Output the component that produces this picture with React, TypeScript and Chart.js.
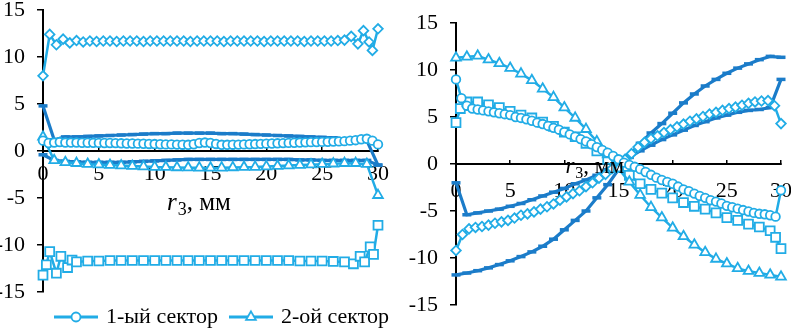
import React, { useEffect, useRef } from "react";
import { Chart, registerables } from "chart.js";

Chart.register(...registerables);

const LIGHT = "#21ace6";
const DARK = "#1b7cc9";
const FONT = "'Liberation Serif', 'Times New Roman', serif";

// ---------- x grids ----------
const X1 = [0, 1, 2, 3, 4, 5, 6, 7, 8, 9, 10, 11, 12, 13, 14, 15, 16, 17, 18, 19, 20, 21, 22, 23, 24, 25, 26, 27, 28, 29, 30];
const X05 = [0, 0.5, 1, 1.5, 2, 2.5, 3, 3.5, 4, 4.5, 5, 5.5, 6, 6.5, 7, 7.5, 8, 8.5, 9, 9.5, 10, 10.5, 11, 11.5, 12, 12.5, 13, 13.5, 14, 14.5, 15, 15.5, 16, 16.5, 17, 17.5, 18, 18.5, 19, 19.5, 20, 20.5, 21, 21.5, 22, 22.5, 23, 23.5, 24, 24.5, 25, 25.5, 26, 26.5, 27, 27.5, 28, 28.5, 29, 29.5, 30];
const X06 = [0, 0.6, 1.2, 1.8, 2.4, 3, 3.6, 4.2, 4.8, 5.4, 6, 6.6, 7.2, 7.8, 8.4, 9, 9.6, 10.2, 10.8, 11.4, 12, 12.6, 13.2, 13.8, 14.4, 15, 15.6, 16.2, 16.8, 17.4, 18, 18.6, 19.2, 19.8, 20.4, 21, 21.6, 22.2, 22.8, 23.4, 24, 24.6, 25.2, 25.8, 26.4, 27, 27.6, 28.2, 28.8, 29.4, 30];

const X_TICKS = [0, 5, 10, 15, 20, 25, 30];
const Y_TICKS = [-15, -10, -5, 0, 5, 10, 15];

const LEGEND_LABELS = ["1-ый сектор", "2-ой сектор"];
const SERIES_LABELS = ["1-ый сектор", "2-ой сектор", "3-ий сектор", "4-ый сектор", "5-ый сектор", "6-ой сектор"];

// ---------- left panel ----------
const leftCircleY = [
  1.1, 0.85, 0.9, 0.95, 0.9, 0.9, 0.9, 0.88, 0.88, 0.87,
  0.86, 0.85, 0.85, 0.84, 0.82, 0.8, 0.8, 0.78, 0.77, 0.75,
  0.74, 0.72, 0.7, 0.7, 0.68, 0.67, 0.66, 0.72, 0.85, 0.9,
  0.85, 0.75, 0.66, 0.66, 0.67, 0.68, 0.7, 0.72, 0.74, 0.76,
  0.78, 0.8, 0.82, 0.84, 0.86, 0.88, 0.9, 0.92, 0.94, 0.95,
  0.97, 0.98, 1.0, 1.02, 1.05, 1.1, 1.15, 1.25, 1.3, 1.1,
  0.7,
];
const leftTriangleY = [
  1.5, -1.0, -1.2, -1.3, -1.4, -1.45, -1.5, -1.55, -1.6, -1.65, -1.7,
  -1.72, -1.75, -1.77, -1.78, -1.8, -1.78, -1.75, -1.72, -1.7, -1.65,
  -1.6, -1.55, -1.5, -1.45, -1.4, -1.35, -1.3, -1.3, -1.4, -4.7,
];
const leftSquareX = [0, 0.3, 0.6, 1.2, 1.6, 2.2, 2.6, 3, 4, 5, 6, 7, 8, 9, 10, 11, 12, 13, 14, 15, 16, 17, 18, 19, 20, 21, 22, 23, 24, 25, 26, 27, 27.8, 28.4, 28.8, 29.3, 29.6, 30];
const leftSquareY = [
  -13.2, -12.1, -10.7, -13.0, -11.2, -12.4, -11.6, -11.8,
  -11.7, -11.7, -11.65, -11.65, -11.65, -11.65, -11.65, -11.65, -11.65, -11.65, -11.65, -11.65,
  -11.65, -11.65, -11.65, -11.65, -11.65, -11.65, -11.65, -11.7, -11.7, -11.7, -11.75, -11.8,
  -12.0, -11.2, -11.8, -10.2, -11.0, -7.9,
];
const leftDiamondX = [0, 0.6, 1.2, 1.8, 2.4, 3, 3.6, 4.2, 4.8, 5.4, 6, 6.6, 7.2, 7.8, 8.4, 9, 9.6, 10.2, 10.8, 11.4, 12, 12.6, 13.2, 13.8, 14.4, 15, 15.6, 16.2, 16.8, 17.4, 18, 18.6, 19.2, 19.8, 20.4, 21, 21.6, 22.2, 22.8, 23.4, 24, 24.6, 25.2, 25.8, 26.4, 27, 27.6, 28.2, 28.7, 29.2, 29.5, 30];
const leftDiamondY = [
  8.0, 12.4, 11.3, 11.9, 11.5, 11.75, 11.6, 11.7, 11.65, 11.7,
  11.7, 11.65, 11.7, 11.7, 11.7, 11.65, 11.7, 11.7, 11.7, 11.7,
  11.7, 11.7, 11.65, 11.7, 11.7, 11.7, 11.7, 11.65, 11.7, 11.7,
  11.7, 11.7, 11.7, 11.65, 11.7, 11.7, 11.7, 11.7, 11.7, 11.65,
  11.7, 11.7, 11.7, 11.7, 11.75, 11.8, 12.2,
  11.4, 12.8, 11.6, 10.7, 13.0,
];
const leftDarkUpperY = [
  4.8, 1.2, 1.5, 1.5, 1.55, 1.6, 1.65, 1.7, 1.75, 1.8, 1.85,
  1.85, 1.9, 1.9, 1.9, 1.9, 1.85, 1.85, 1.8, 1.75, 1.7,
  1.65, 1.6, 1.55, 1.5, 1.45, 1.4, 1.3, 1.2, 1.1, -1.5,
];
const leftDarkLowerY = [
  -0.4, -1.0, -1.1, -1.15, -1.2, -1.2, -1.2, -1.2, -1.15, -1.1, -1.05,
  -1.0, -0.95, -0.9, -0.9, -0.9, -0.9, -0.9, -0.9, -0.9, -0.9,
  -0.9, -0.9, -0.95, -0.95, -1.0, -1.0, -1.0, -1.0, -1.0, -1.5,
];

// ---------- right panel ----------
const rightCircleY = [
  9.0, 7.0, 6.2, 5.9, 5.8, 5.7, 5.6, 5.5, 5.4, 5.3,
  5.2, 5.0, 4.9, 4.75, 4.6, 4.4, 4.25, 4.05, 3.85, 3.65,
  3.4, 3.15, 2.9, 2.65, 2.4, 2.1, 1.8, 1.5, 1.2, 0.85,
  0.5, 0.15, -0.1, -0.3, -0.55, -0.85, -1.15, -1.45, -1.7, -1.9,
  -2.1, -2.4, -2.7, -2.9, -3.15, -3.4, -3.6, -3.85, -4.0, -4.2,
  -4.45, -4.6, -4.75, -4.9, -5.05, -5.2, -5.3, -5.35, -5.45, -5.6,
  -2.8,
];
const rightTriangleY = [
  11.3, 11.4, 11.5, 11.1, 10.7, 10.2, 9.6, 8.9, 8.0, 7.1, 6.0,
  4.9, 3.7, 2.4, 1.0, -0.5, -1.9, -3.3, -4.6, -5.7, -6.8,
  -7.7, -8.6, -9.4, -10.1, -10.6, -11.1, -11.4, -11.6, -11.8, -12.0,
];
const rightSquareX = [0, 0.4, 1, 2, 3, 4, 5, 6, 7, 8, 9, 10, 11, 12, 13, 14, 15, 16, 17, 18, 19, 20, 21, 22, 23, 24, 25, 26, 27, 28, 29, 29.5, 30];
const rightSquareY = [
  4.4, 5.9,
  6.6, 6.6, 6.3, 6.0, 5.6, 5.2, 4.9, 4.45, 4.0, 3.4,
  2.9, 2.2, 1.4, 0.5, -0.35, -1.2, -2.1, -2.7, -3.1, -3.6,
  -4.1, -4.5, -4.8, -5.2, -5.7, -6.0, -6.4, -6.7, -7.1,
  -7.8, -9.0,
];
const rightDiamondY = [
  -9.2, -7.5, -6.9, -6.75, -6.65, -6.5, -6.3, -6.15, -6.0, -5.75,
  -5.45, -5.3, -5.1, -4.8, -4.55, -4.25, -3.85, -3.5, -3.15, -2.85,
  -2.4, -2.0, -1.5, -1.1, -0.5, 0.0, 0.5, 1.1, 1.8, 2.3,
  2.7, 3.0, 3.35, 3.65, 3.95, 4.25, 4.55, 4.8, 5.05, 5.3,
  5.5, 5.7, 5.9, 6.05, 6.25, 6.45, 6.6, 6.7, 6.75, 6.2, 4.3,
];
const rightDarkUpperY = [
  -2.0, -5.4, -5.2, -5.0, -4.8, -4.5, -4.2, -3.8, -3.4, -3.0, -2.6,
  -2.1, -1.7, -1.2, -0.6, 0.0, 0.7, 1.4, 2.0, 2.6, 3.1,
  3.6, 4.1, 4.5, 4.9, 5.2, 5.5, 5.7, 5.8, 6.0, 9.0,
];
const rightDarkLowerY = [
  -11.8, -11.6, -11.35, -11.05, -10.7, -10.3, -9.85, -9.35, -8.75, -8.0, -7.0,
  -6.0, -5.0, -3.6, -2.2, -0.6, 0.9, 2.2, 3.3, 4.3, 5.4,
  6.5, 7.45, 8.3, 9.0, 9.65, 10.2, 10.65, 11.1, 11.45, 11.35,
];

// ---------- helpers ----------
function pts(xs: number[], ys: number[]) {
  return xs.map((x, i) => ({ x, y: ys[i] }));
}

function lightSet(label: string, xs: number[], ys: number[], style: string, radius: number) {
  return {
    label,
    data: pts(xs, ys),
    borderColor: LIGHT,
    backgroundColor: LIGHT,
    borderWidth: 2.5,
    pointStyle: style,
    pointRadius: radius,
    pointBorderWidth: 1.8,
    pointBackgroundColor: "#ffffff",
    pointBorderColor: LIGHT,
    tension: 0,
    clip: false as const,
  };
}

function darkSet(label: string, xs: number[], ys: number[]) {
  return {
    label,
    data: pts(xs, ys),
    borderColor: DARK,
    backgroundColor: DARK,
    borderWidth: 3.2,
    pointStyle: "line",
    pointRadius: 4.5,
    pointBorderWidth: 3.5,
    pointBorderColor: DARK,
    tension: 0,
    clip: false as const,
  };
}

function makeIcon(kind: "circle" | "triangle") {
  const c = document.createElement("canvas");
  c.width = 44;
  c.height = 16;
  const g = c.getContext("2d")!;
  g.strokeStyle = LIGHT;
  g.lineWidth = 3;
  g.beginPath();
  g.moveTo(0, 8);
  g.lineTo(44, 8);
  g.stroke();
  g.fillStyle = "#ffffff";
  g.lineWidth = 1.8;
  g.beginPath();
  if (kind === "circle") {
    g.arc(22, 8, 4.5, 0, Math.PI * 2);
  } else {
    const r = 5.6;
    g.moveTo(22, 8 - r);
    g.lineTo(22 + r * 0.866, 8 + r * 0.5);
    g.lineTo(22 - r * 0.866, 8 + r * 0.5);
    g.closePath();
  }
  g.fill();
  g.stroke();
  return c;
}

const axisTitlePlugin = {
  id: "axisTitleR3",
  beforeDraw(chart: any, _args: any, opts: any) {
    // legend row starts under the plot area, like the original
    if (chart.legend && opts.legendShift) {
      const lg = chart.legend;
      lg.left = opts.legendShift;
      lg.right = chart.width + opts.legendShift;
    }
  },
  afterDraw(chart: any, _args: any, opts: any) {
    const { ctx, scales } = chart;
    const x = scales.x.getPixelForValue(opts.x);
    const y = scales.y.getPixelForValue(opts.y);
    const size = opts.size;
    ctx.save();
    ctx.fillStyle = "#000";
    ctx.textAlign = "left";
    ctx.textBaseline = "alphabetic";
    ctx.font = `italic ${size}px ${FONT}`;
    ctx.fillText("r", x, y);
    let cx = x + ctx.measureText("r").width + 1;
    ctx.font = `${Math.round(size * 0.7)}px ${FONT}`;
    ctx.fillText("3", cx, y + size * 0.2);
    cx += ctx.measureText("3").width;
    ctx.font = `${size}px ${FONT}`;
    ctx.fillText(", мм", cx, y);
    ctx.restore();
  },
};

function buildOptions(side: "left" | "right") {
  const isLeft = side === "left";
  const yWidth = isLeft ? 43 : 61;
  return {
    responsive: false,
    animation: false as const,
    devicePixelRatio: 1,
    layout: isLeft
      ? { padding: { left: 0, right: 17, top: 10, bottom: 2 } }
      : { padding: { left: 0, right: 10, top: 23, bottom: 27 } },
    scales: {
      x: {
        type: "linear" as const,
        position: { y: 0 },
        min: 0,
        max: 30,
        afterBuildTicks: (s: any) => {
          s.ticks = X_TICKS.map((v) => ({ value: v }));
        },
        afterFit: (s: any) => {
          s.paddingLeft = 0;
          s.paddingRight = 0;
        },
        grid: { drawOnChartArea: false, drawTicks: true, tickLength: -5, color: "#000", lineWidth: 1.5 },
        border: { color: "#000", width: 2 },
        ticks: {
          color: "#000",
          font: { family: FONT, size: 22 },
          padding: isLeft ? 15 : 19,
          maxRotation: 0,
          autoSkip: false,
          callback: (v: any) => String(v),
        },
      },
      y: {
        type: "linear" as const,
        position: "left" as const,
        min: -15,
        max: 15,
        afterBuildTicks: (s: any) => {
          s.ticks = Y_TICKS.map((v) => ({ value: v }));
        },
        afterFit: (s: any) => {
          s.width = yWidth;
          s.paddingTop = 0;
          s.paddingBottom = 0;
        },
        grid: { drawOnChartArea: false, drawTicks: true, tickLength: 6, color: "#000", lineWidth: 1.5 },
        border: { color: "#000", width: 2 },
        ticks: {
          color: "#000",
          font: { family: FONT, size: 22 },
          padding: 12,
          autoSkip: false,
          callback: (v: any) => String(v),
        },
      },
    },
    plugins: {
      legend: isLeft
        ? {
            display: true,
            position: "bottom" as const,
            align: "start" as const,
            labels: {
              usePointStyle: true,
              pointStyleWidth: 38,
              padding: 14,
              color: "#000",
              font: { family: FONT, size: 22 },
              generateLabels: () => [
                { text: LEGEND_LABELS[0], pointStyle: makeIcon("circle"), datasetIndex: 0, hidden: false, lineWidth: 0, fontColor: "#000" },
                { text: LEGEND_LABELS[1], pointStyle: makeIcon("triangle"), datasetIndex: 1, hidden: false, lineWidth: 0, fontColor: "#000" },
              ],
            },
          }
        : { display: false },
      tooltip: { enabled: false },
      axisTitleR3: isLeft
        ? { x: 11.1, y: -6.3, size: 25, legendShift: 43 }
        : { x: 10.1, y: -0.95, size: 23, legendShift: 0 },
    },
  };
}

function PanelChart({ side, width, height, datasets }: { side: "left" | "right"; width: number; height: number; datasets: any[] }) {
  const ref = useRef<HTMLCanvasElement | null>(null);
  useEffect(() => {
    if (!ref.current) return;
    const chart = new Chart(ref.current, {
      type: "line",
      data: { datasets },
      options: buildOptions(side) as any,
      plugins: [axisTitlePlugin],
    });
    return () => chart.destroy();
  }, []);
  return <canvas ref={ref} width={width} height={height} style={{ width, height, display: "block" }} />;
}

export default function App() {
  const leftSets = [
    lightSet(SERIES_LABELS[0], X05, leftCircleY, "circle", 4.3),
    lightSet(SERIES_LABELS[1], X1, leftTriangleY, "triangle", 5.6),
    lightSet(SERIES_LABELS[2], leftSquareX, leftSquareY, "rect", 6.3),
    lightSet(SERIES_LABELS[3], leftDiamondX, leftDiamondY, "rectRot", 4.8),
    darkSet(SERIES_LABELS[4], X1, leftDarkUpperY),
    darkSet(SERIES_LABELS[5], X1, leftDarkLowerY),
  ];
  const rightSets = [
    lightSet(SERIES_LABELS[0], X05, rightCircleY, "circle", 4.3),
    lightSet(SERIES_LABELS[1], X1, rightTriangleY, "triangle", 5.6),
    lightSet(SERIES_LABELS[2], rightSquareX, rightSquareY, "rect", 6.3),
    lightSet(SERIES_LABELS[3], X06, rightDiamondY, "rectRot", 4.8),
    darkSet(SERIES_LABELS[4], X1, rightDarkUpperY),
    darkSet(SERIES_LABELS[5], X1, rightDarkLowerY),
  ];
  return (
    <div style={{ position: "absolute", left: 0, top: 0, width: 791, height: 332, overflow: "hidden", background: "#fff" }}>
      <div style={{ position: "absolute", left: 0, top: 0 }}>
        <PanelChart side="left" width={395} height={340} datasets={leftSets} />
      </div>
      <div style={{ position: "absolute", left: 395, top: 0 }}>
        <PanelChart side="right" width={396} height={332} datasets={rightSets} />
      </div>
    </div>
  );
}
